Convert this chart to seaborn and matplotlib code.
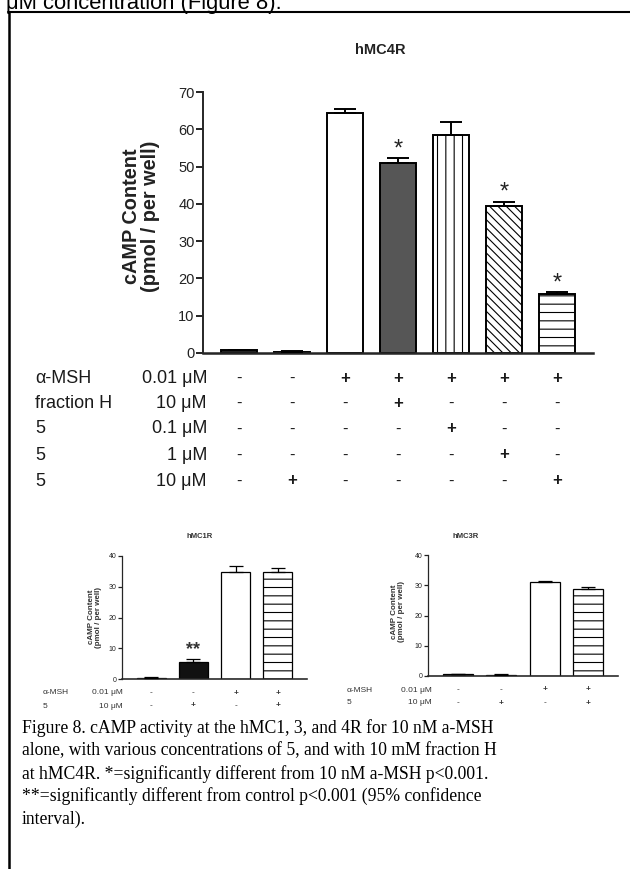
import matplotlib
matplotlib.use("Agg")
import matplotlib.pyplot as plt
import matplotlib.transforms as mtransforms
from matplotlib.lines import Line2D
import seaborn as sns
import pandas as pd

# ---------------- data ----------------
mc4_cats = ["control", "5 10uM", "aMSH", "aMSH+fracH", "aMSH+5 0.1", "aMSH+5 1", "aMSH+5 10"]
mc4_vals = [0.7, 0.4, 64.4, 51.0, 58.5, 39.5, 15.9]
mc4_errs = [0.2, 0.1, 1.0, 1.2, 3.4, 1.1, 0.5]
mc4_stars = [3, 5, 6]
mc4_row_labels = ["α-MSH", "fraction H", "5", "5", "5"]
mc4_conc_labels = ["0.01 μM", "10 μM", "0.1 μM", "1 μM", "10 μM"]
mc4_signs = [["-", "-", "+", "+", "+", "+", "+"],
             ["-", "-", "-", "+", "-", "-", "-"],
             ["-", "-", "-", "-", "+", "-", "-"],
             ["-", "-", "-", "-", "-", "+", "-"],
             ["-", "+", "-", "-", "-", "-", "+"]]
mc4_yticks = [0, 10, 20, 30, 40, 50, 60, 70]

mc1_cats = ["control", "5 10uM", "aMSH", "aMSH+5"]
mc1_vals = [0.4, 5.6, 34.8, 34.8]
mc1_errs = [0.1, 0.8, 1.9, 1.2]
mc1_stars = [1]
mc3_cats = ["control", "5 10uM", "aMSH", "aMSH+5"]
mc3_vals = [0.6, 0.4, 31.0, 28.9]
mc3_errs = [0.1, 0.1, 0.4, 0.4]
small_row_labels = ["α-MSH", "5"]
small_conc_labels = ["0.01 μM", "10 μM"]
small_signs = [["-", "-", "+", "+"],
               ["-", "+", "-", "+"]]
small_yticks = [0, 10, 20, 30, 40]

caption_lines = [
    "Figure 8. cAMP activity at the hMC1, 3, and 4R for 10 nM a-MSH",
    "alone, with various concentrations of 5, and with 10 mM fraction H",
    "at hMC4R. *=significantly different from 10 nM a-MSH p<0.001.",
    "**=significantly different from control p<0.001 (95% confidence",
    "interval).",
]

# ---------------- style ----------------
sns.set_style("white")
plt.rcParams["font.family"] = ["Liberation Sans", "DejaVu Sans"]
plt.rcParams["hatch.linewidth"] = 0.8
plt.rcParams["hatch.color"] = "black"

W, H = 630, 869
fig = plt.figure(figsize=(W / 100, H / 100), dpi=100)
fig.patch.set_facecolor("white")


def fx(x):
    return x / W


def fy(y):
    return 1 - y / H


def axes_px(left, top, right, bottom):
    return fig.add_axes([fx(left), fy(bottom), (right - left) / W, (bottom - top) / H])


def draw_panel(ax, cats, vals, errs, colors, hatches, width, ymax, yticks,
               spine_lw, bar_lw, tick_fs, tick_len, capsize, xlim):
    df = pd.DataFrame({"cat": cats, "val": vals})
    sns.barplot(data=df, x="cat", y="val", hue="cat", palette=colors, legend=False,
                width=width, ax=ax, saturation=1)
    for p, h in zip(ax.patches, hatches):
        p.set_edgecolor("black")
        p.set_linewidth(bar_lw)
        if h:
            p.set_hatch(h)
    ax.errorbar(x=list(range(len(vals))), y=vals, yerr=[[0] * len(errs), errs],
                fmt="none", ecolor="black", elinewidth=bar_lw, capsize=capsize,
                capthick=bar_lw, zorder=5)
    ax.set_ylim(0, ymax)
    ax.set_xlim(*xlim)
    ax.set_yticks(yticks)
    ax.set_xticks([])
    ax.set_xlabel("")
    ax.set_ylabel("")
    sns.despine(ax=ax)
    ax.spines["left"].set_linewidth(spine_lw)
    ax.spines["bottom"].set_linewidth(spine_lw * 1.3)
    ax.tick_params(axis="y", direction="out", length=tick_len, width=spine_lw,
                   labelsize=tick_fs, left=True, pad=1, colors="#222222")
    ax.patch.set_alpha(0)


def draw_table(ax, row_labels, conc_labels, signs, rows_y, lab_x, conc_x, fs, sign_fs,
               color="#1a1a1a"):
    tr = mtransforms.blended_transform_factory(ax.transData, fig.transFigure)
    for i, (lab, conc, row) in enumerate(zip(row_labels, conc_labels, signs)):
        y = fy(rows_y[i])
        fig.text(fx(lab_x), y, lab, ha="left", va="center", fontsize=fs, color=color)
        fig.text(fx(conc_x), y, conc, ha="right", va="center", fontsize=fs, color=color)
        for j, s in enumerate(row):
            ax.text(j, y, s, transform=tr, ha="center", va="center",
                    fontsize=sign_fs, color=color, fontweight="bold" if s == "+" else "normal")


# ---------------- page frame and cut-off text ----------------
fig.add_artist(Line2D([fx(8), fx(630)], [fy(12), fy(12)], transform=fig.transFigure,
                      color="black", lw=1.5))
fig.add_artist(Line2D([fx(9), fx(9)], [fy(12), fy(869)], transform=fig.transFigure,
                      color="black", lw=1.8))
fig.text(fx(6), fy(9), "μM concentration (Figure 8).", ha="left", va="baseline",
         fontsize=15.8, color="black")

# ---------------- main hMC4R panel ----------------
ax = axes_px(203, 92, 593, 353)
draw_panel(ax, mc4_cats, mc4_vals, mc4_errs,
           ["white", "white", "white", "#565656", "white", "white", "white"],
           [None, None, None, None, "||", "\\\\\\\\", "--"],
           width=0.68, ymax=70, yticks=mc4_yticks, spine_lw=1.4, bar_lw=1.4,
           tick_fs=10.5, tick_len=5, capsize=8, xlim=(-0.68, 6.68))
for i in mc4_stars:
    ax.text(i, mc4_vals[i] + mc4_errs[i] - 0.6, "*", ha="center", va="bottom",
            fontsize=17, color="#222222")
# first two tiny bars drawn darker
for p in ax.patches[:2]:
    p.set_facecolor("#222222")
fig.text(fx(380), fy(50), "hMC4R", ha="center", va="center", fontsize=10.5,
         fontweight="bold", color="#222222")
fig.text(fx(141), fy(216), "cAMP Content\n(pmol / per well)", ha="center", va="center",
         rotation=90, fontsize=14.3, fontweight="bold", color="#222222", linespacing=1.0)
draw_table(ax, mc4_row_labels, mc4_conc_labels, mc4_signs,
           [378, 403, 429, 455, 481], 35, 207, 13, 12)

# ---------------- hMC1R panel ----------------
ax1 = axes_px(122, 556, 307, 679)
draw_panel(ax1, mc1_cats, mc1_vals, mc1_errs,
           ["white", "#111111", "white", "white"], [None, None, None, "--"],
           width=0.69, ymax=40, yticks=small_yticks, spine_lw=0.9, bar_lw=0.9,
           tick_fs=5, tick_len=3, capsize=5, xlim=(-0.69, 3.69))
ax1.patches[0].set_facecolor("#333333")
for i in mc1_stars:
    ax1.text(i, mc1_vals[i] + mc1_errs[i] + 0.3, "**", ha="center", va="bottom",
             fontsize=13, fontweight="bold", color="#333333")
fig.text(fx(200), fy(536), "hMC1R", ha="center", va="center", fontsize=5.5,
         fontweight="bold", color="#333333")
fig.text(fx(95), fy(617), "cAMP Content\n(pmol / per well)", ha="center", va="center",
         rotation=90, fontsize=5.8, fontweight="bold", color="#333333", linespacing=1.1)
draw_table(ax1, small_row_labels, small_conc_labels, small_signs,
           [693, 706], 43, 123, 6, 6, color="#333333")

# ---------------- hMC3R panel ----------------
ax3 = axes_px(428, 555, 618, 676)
draw_panel(ax3, mc3_cats, mc3_vals, mc3_errs,
           ["white", "white", "white", "white"], [None, None, None, "--"],
           width=0.69, ymax=40, yticks=small_yticks, spine_lw=0.9, bar_lw=0.9,
           tick_fs=5, tick_len=3, capsize=5, xlim=(-0.69, 3.69))
ax3.patches[0].set_facecolor("#333333")
ax3.patches[1].set_facecolor("#333333")
fig.text(fx(466), fy(536), "hMC3R", ha="center", va="center", fontsize=5.5,
         fontweight="bold", color="#333333")
fig.text(fx(398), fy(612), "cAMP Content\n(pmol / per well)", ha="center", va="center",
         rotation=90, fontsize=5.8, fontweight="bold", color="#333333", linespacing=1.1)
draw_table(ax3, small_row_labels, small_conc_labels, small_signs,
           [690, 703], 347, 432, 6, 6, color="#333333")

# ---------------- caption ----------------
for k, line in enumerate(caption_lines):
    fig.text(fx(22), fy(728 + k * 22.8), line, ha="left", va="center",
             fontsize=12.7, family=["Liberation Serif", "DejaVu Serif"], color="black")

fig.savefig("out.png", dpi=100, facecolor="white")
